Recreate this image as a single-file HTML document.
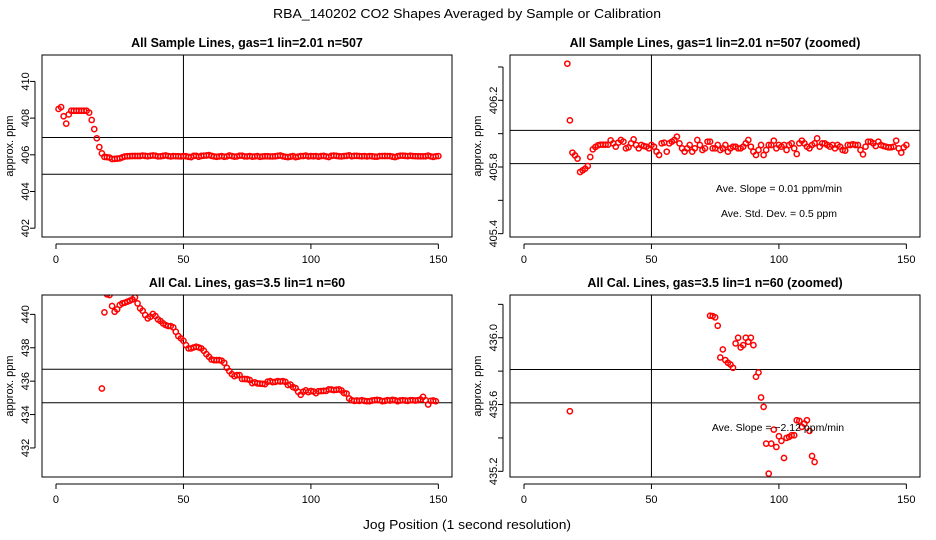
<!DOCTYPE html>
<html><head><meta charset="utf-8">
<style>
html,body{margin:0;padding:0;background:#fff;width:936px;height:540px;overflow:hidden;}
svg{display:block;font-family:"Liberation Sans",sans-serif;}
</style></head>
<body>
<svg id="chart" width="936" height="540" viewBox="0 0 936 540" xmlns="http://www.w3.org/2000/svg">
<rect x="0" y="0" width="936" height="540" fill="#fff"/>
<text x="467" y="18" text-anchor="middle" font-size="13" textLength="388" lengthAdjust="spacingAndGlyphs">RBA_140202  CO2 Shapes Averaged by Sample or Calibration</text>
<text x="467" y="529" text-anchor="middle" font-size="13" textLength="208" lengthAdjust="spacingAndGlyphs">Jog Position (1 second resolution)</text>
</svg>
<script>
// Sample series: jog position 1..150
const sampleY = [408.5,408.6,408.1,407.7,408.2,408.4,408.4,408.4,408.4,408.4,408.4,408.4,408.3,407.9,407.4,406.9,
406.42,406.08,405.886,405.87,405.85,405.77,405.78,405.79,405.806,405.86,405.906,405.92,405.93,405.934,405.934,405.934,405.934,
405.96,405.942,405.922,405.946,405.962,405.952,405.912,405.918,405.942,405.966,405.932,405.912,405.932,405.926,405.922,405.912,
405.932,405.922,405.892,405.872,405.942,405.946,405.892,405.942,405.952,405.962,405.982,405.942,405.912,405.892,405.912,405.932,
405.892,405.912,405.962,405.932,405.902,405.912,405.952,405.952,405.912,405.912,405.932,405.902,405.912,405.932,405.892,405.912,
405.922,405.922,405.912,405.912,405.922,405.942,405.962,405.922,405.892,405.872,405.902,405.932,405.872,405.902,405.932,405.932,
405.958,405.912,405.932,405.922,405.932,405.902,405.932,405.942,405.912,405.878,405.942,405.958,405.942,405.922,405.912,405.932,
405.942,405.972,405.922,405.942,405.942,405.932,405.922,405.932,405.912,405.932,405.922,405.902,405.898,405.932,405.932,405.936,
405.932,405.932,405.902,405.876,405.922,405.952,405.952,405.942,405.926,405.952,405.932,405.926,405.922,405.918,405.918,405.922,
405.958,405.912,405.886,405.918,405.932];
// Calibration series: jog position 18..150
const calStart = 18;
const calY = [435.56,440.12,441.2,441.16,440.5,440.16,440.3,440.56,440.66,440.7,440.76,440.82,440.9,441.02,440.66,440.36,440.22,
439.96,439.76,439.86,440.02,439.9,439.7,439.6,439.46,439.36,439.3,439.3,439.22,438.96,438.7,438.56,438.42,438.16,437.96,437.96,
438.02,438.06,438.02,437.96,437.82,437.62,437.46,437.3,437.26,437.26,437.26,437.22,437.1,436.8,436.6,436.42,436.3,436.36,436.36,
436.132,436.13,436.122,436.072,435.882,435.93,435.866,435.85,435.84,435.82,435.966,436.0,435.942,435.956,436.0,435.976,436.0,435.956,
435.766,435.792,435.642,435.586,435.366,435.186,435.366,435.45,435.346,435.41,435.382,435.28,435.4,435.406,435.416,435.416,435.506,
435.502,435.466,435.486,435.506,435.442,435.292,435.256,
434.96,434.86,434.82,434.84,434.82,434.86,434.82,434.8,434.8,434.84,434.86,434.88,434.86,434.8,434.82,434.86,434.84,434.88,434.86,
434.8,434.84,434.86,434.84,434.82,434.86,434.86,434.84,434.86,434.9,435.06,434.86,434.6,434.82,434.84,434.8];
const sampleBand = [405.94, 1.0, 405.92, 0.1];
const calBand = [435.71, 1.0, 435.71, 0.1];
const xTicks = [0,50,100,150];
const tlTicks = [402,404,406,408,410];
const trTicks = [405.4,405.6,405.8,406.0,406.2,406.4];
const blTicks = [432,434,436,438,440];
const brTicks = [435.2,435.4,435.6,435.8,436.0,436.2];
const titles = ["All Sample Lines, gas=1 lin=2.01 n=507","All Sample Lines, gas=1 lin=2.01 n=507 (zoomed)","All Cal. Lines, gas=3.5 lin=1 n=60","All Cal. Lines, gas=3.5 lin=1 n=60 (zoomed)"];

const NS="http://www.w3.org/2000/svg";
const svg=document.getElementById('chart');
function mk(tag,attrs,parent){const e=document.createElementNS(NS,tag);for(const k in attrs)e.setAttribute(k,attrs[k]);(parent||svg).appendChild(e);return e;}

function panel(id,bx0,by0,bx1,by1,ymin,ymax,yticks,labelEvery,title,xs,ys,center,sd,notes){
  const g=mk('g',{});
  
  
  const xmin=-5.49,xmax=155.35;
  const X=v=>bx0+(v-xmin)/(xmax-xmin)*(bx1-bx0);
  const Y=v=>by1-(v-ymin)/(ymax-ymin)*(by1-by0);
  const t=mk('text',{x:(bx0+bx1)/2,y:by0-8,'text-anchor':'middle','font-size':'12.5','font-weight':'bold'},g);
  t.textContent=title;
  
  
  const cid='clip-'+id;
  const cp=mk('clipPath',{id:cid},g);mk('rect',{x:bx0,y:by0,width:bx1-bx0,height:by1-by0},cp);
  [center+sd,center-sd].forEach(v=>{const l=mk('line',{x1:bx0,x2:bx1,y1:Y(v),y2:Y(v),stroke:'#000','stroke-width':1},g);
    
    });
  const vl=mk('line',{x1:X(50),x2:X(50),y1:by0,y2:by1,stroke:'#000','stroke-width':1},g);
  
  
  const pg=mk('g',{'clip-path':'url(#'+cid+')'},g);
  for(let i=0;i<ys.length;i++){
    const py=Y(ys[i]);
    if(py<by0-4||py>by1+4) continue;
    const c=mk('circle',{cx:X(xs[i]),cy:py,r:2.6,fill:'none',stroke:'#f00','stroke-width':1.5},pg);
    
    
  }
  const box=mk('rect',{x:bx0,y:by0,width:bx1-bx0,height:by1-by0,fill:'none',stroke:'#000','stroke-width':1},g);
  
  
  mk('line',{x1:X(0),x2:X(150),y1:by1+7,y2:by1+7,stroke:'#000'},g);
  xTicks.forEach(v=>{mk('line',{x1:X(v),x2:X(v),y1:by1+7,y2:by1+12,stroke:'#000'},g);
    const tx=mk('text',{x:X(v),y:by1+26,'text-anchor':'middle','font-size':'11'},g);tx.textContent=v;
    
    });
  mk('line',{x1:bx0-7,x2:bx0-7,y1:Y(yticks[0]),y2:Y(yticks[yticks.length-1]),stroke:'#000'},g);
  yticks.forEach((v,i)=>{mk('line',{x1:bx0-12,x2:bx0-7,y1:Y(v),y2:Y(v),stroke:'#000'},g);
    if(i%labelEvery===0){const ty=mk('text',{x:0,y:0,'text-anchor':'middle','font-size':'11',transform:`translate(${bx0-13},${Y(v)}) rotate(-90)`},g);
      ty.textContent=labelEvery>1?v.toFixed(1):v;
      
      }});
  const yl=mk('text',{x:0,y:0,'text-anchor':'middle','font-size':'11',transform:`translate(${bx0-29},${(by0+by1)/2}) rotate(-90)`},g);
  yl.textContent='approx. ppm';
  
  
  notes.forEach(n=>{const nt=mk('text',{x:n[0],y:n[1],'text-anchor':'middle','font-size':'10.5'},g);nt.textContent=n[2];
    
    });
}
const sx=sampleY.map((_,i)=>i+1);
const cx=calY.map((_,i)=>i+calStart);
panel('sample',42,55,452,237,401.52,411.44,tlTicks,1,titles[0],sx,sampleY,sampleBand[0],sampleBand[1],[]);
panel('sample-zoomed',510,55,920,237,405.38,406.472,trTicks,2,titles[1],sx,sampleY,sampleBand[2],sampleBand[3],
  [[779,192,'Ave. Slope =  0.01  ppm/min'],[779,217,'Ave. Std. Dev. =  0.5  ppm']]);
panel('cal',42,295,452,477,430.26,441.16,blTicks,1,titles[2],cx,calY,calBand[0],calBand[1],[]);
panel('cal-zoomed',510,295,920,477,435.166,436.256,brTicks,2,titles[3],cx,calY,calBand[2],calBand[3],
  [[778,431,'Ave. Slope = \u22122.12  ppm/min']]);
</script>
</body></html>
